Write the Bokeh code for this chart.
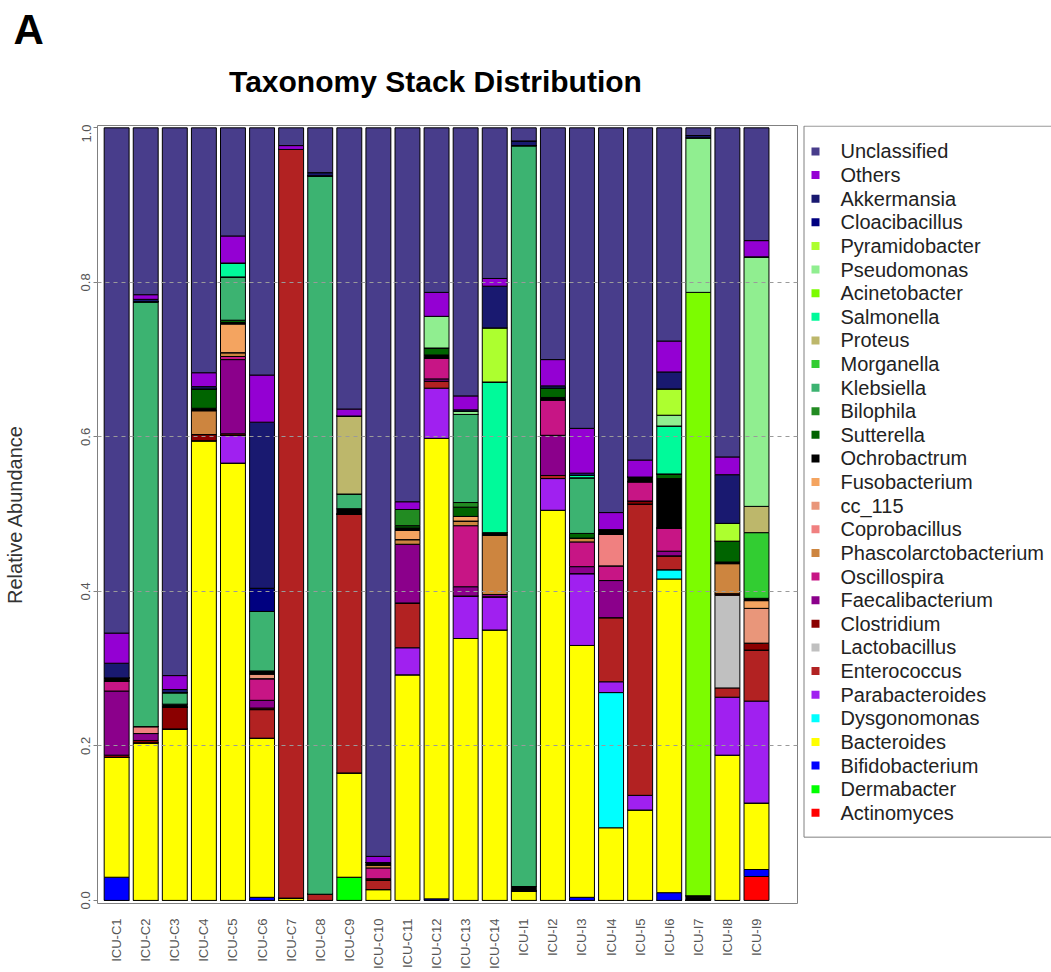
from math import pi
from bokeh.plotting import figure
from bokeh.layouts import column, row
from bokeh.models import ColumnDataSource, Range1d, FixedTicker, PrintfTickFormatter
from bokeh.core.properties import value
from bokeh.embed import file_html
from bokeh.resources import INLINE

samples = ["ICU-C1", "ICU-C2", "ICU-C3", "ICU-C4", "ICU-C5", "ICU-C6", "ICU-C7",
           "ICU-C8", "ICU-C9", "ICU-C10", "ICU-C11", "ICU-C12", "ICU-C13", "ICU-C14",
           "ICU-I1", "ICU-I2", "ICU-I3", "ICU-I4", "ICU-I5", "ICU-I6", "ICU-I7",
           "ICU-I8", "ICU-I9"]

# relative abundance per taxon (one value per sample, order as in samples)
actinomyces = [0, 0, 0, 0, 0, 0, 0, 0, 0, 0, 0, 0, 0, 0, 0, 0, 0, 0, 0, 0, 0, 0, 0.031]
dermabacter = [0, 0, 0, 0, 0, 0, 0, 0, 0.030, 0, 0, 0, 0, 0, 0, 0, 0, 0, 0, 0, 0, 0, 0]
bifidobacterium = [0.030, 0, 0, 0, 0, 0.004, 0, 0, 0, 0, 0, 0.002, 0, 0, 0, 0, 0.004, 0, 0, 0.010, 0, 0, 0.009]
bacteroides = [0.155, 0.204, 0.222, 0.595, 0.566, 0.206, 0.003, 0, 0.135, 0.014, 0.292, 0.596,
               0.339, 0.350, 0.012, 0.505, 0.326, 0.094, 0.117, 0.406, 0, 0.188, 0.086]
dysgonomonas = [0, 0, 0, 0, 0, 0, 0, 0, 0, 0, 0, 0, 0, 0, 0, 0, 0, 0.175, 0, 0.012, 0, 0, 0]
parabacteroides = [0, 0, 0, 0, 0.036, 0, 0, 0, 0, 0, 0.035, 0.065, 0.055, 0.043, 0, 0.041,
                   0.093, 0.014, 0.019, 0, 0, 0.075, 0.132]
enterococcus = [0, 0, 0, 0, 0, 0.037, 0.969, 0.008, 0.335, 0.012, 0.058, 0.009, 0, 0, 0, 0.004,
                0, 0.083, 0.377, 0.018, 0, 0.012, 0.066]
lactobacillus = [0, 0, 0, 0, 0, 0, 0, 0, 0, 0, 0, 0, 0, 0, 0, 0, 0, 0, 0, 0, 0, 0.120, 0]
clostridium = [0.003, 0.003, 0.028, 0.008, 0.002, 0.002, 0, 0, 0, 0.002, 0, 0, 0, 0, 0, 0, 0, 0,
               0.004, 0, 0, 0.002, 0.009]
faecalibacterium = [0.083, 0.009, 0, 0, 0.096, 0.010, 0, 0, 0, 0, 0.076, 0.003, 0.012, 0.003, 0,
                    0.052, 0.009, 0.048, 0, 0.006, 0, 0, 0]
oscillospira = [0.013, 0, 0, 0, 0.004, 0.028, 0, 0, 0, 0.014, 0, 0.027, 0.079, 0, 0, 0.046,
                0.032, 0.019, 0.025, 0.030, 0, 0, 0]
phascolarctobacterium = [0, 0, 0, 0.031, 0.005, 0, 0, 0, 0, 0.004, 0.006, 0, 0.006, 0.077, 0, 0,
                         0.005, 0, 0, 0, 0, 0.039, 0]
coprobacillus = [0, 0.009, 0, 0, 0, 0, 0, 0, 0, 0, 0, 0, 0, 0, 0, 0, 0, 0.041, 0, 0, 0, 0, 0]
cc_115 = [0, 0, 0, 0, 0, 0.006, 0, 0, 0, 0, 0, 0, 0, 0, 0, 0, 0, 0, 0, 0, 0, 0, 0.045]
fusobacterium = [0, 0, 0, 0, 0.037, 0, 0, 0, 0, 0, 0.012, 0, 0.006, 0, 0, 0, 0, 0, 0, 0, 0, 0, 0.010]
ochrobactrum = [0.004, 0, 0.004, 0.003, 0.002, 0.004, 0, 0, 0.007, 0.003, 0.003, 0.004, 0, 0.003,
                0.006, 0.003, 0, 0.006, 0.006, 0.064, 0.004, 0.002, 0.003]
sutterella = [0, 0, 0, 0.025, 0.003, 0, 0, 0, 0, 0, 0.003, 0.009, 0.012, 0, 0, 0.012, 0.006, 0, 0,
              0.006, 0.002, 0.027, 0]
bilophila = [0, 0, 0, 0, 0, 0, 0, 0, 0, 0, 0.021, 0, 0.006, 0, 0, 0, 0, 0, 0, 0, 0, 0, 0]
klebsiella = [0, 0.550, 0.015, 0, 0.056, 0.077, 0, 0.930, 0.019, 0, 0, 0, 0.114, 0, 0.959, 0,
              0.072, 0, 0, 0, 0, 0, 0]
morganella = [0, 0, 0, 0, 0, 0, 0, 0, 0, 0, 0, 0, 0, 0, 0, 0, 0, 0, 0, 0, 0, 0, 0.085]
proteus = [0, 0, 0, 0, 0, 0, 0, 0, 0.101, 0, 0, 0, 0, 0, 0, 0, 0, 0, 0, 0, 0, 0, 0.034]
salmonella = [0, 0, 0, 0, 0.018, 0, 0, 0, 0, 0, 0, 0, 0, 0.195, 0, 0, 0.003, 0, 0, 0.062, 0, 0, 0]
acinetobacter = [0, 0, 0, 0, 0, 0, 0, 0, 0, 0, 0, 0, 0, 0, 0, 0, 0, 0, 0, 0, 0.781, 0, 0]
pseudomonas = [0, 0, 0, 0, 0, 0, 0, 0, 0, 0, 0, 0.041, 0.004, 0, 0, 0, 0, 0, 0, 0.014, 0.200, 0, 0.323]
pyramidobacter = [0, 0, 0, 0, 0, 0, 0, 0, 0, 0, 0, 0, 0, 0.070, 0, 0, 0, 0, 0, 0.034, 0, 0.023, 0]
cloacibacillus = [0, 0, 0, 0, 0, 0.030, 0, 0, 0, 0, 0, 0, 0, 0, 0, 0, 0, 0, 0, 0, 0, 0, 0]
akkermansia = [0.019, 0.003, 0.004, 0.003, 0, 0.215, 0, 0.004, 0, 0, 0, 0, 0.002, 0.054, 0.006,
               0.003, 0.003, 0, 0, 0.022, 0.003, 0.063, 0]
others = [0.039, 0.006, 0.018, 0.018, 0.035, 0.061, 0.005, 0, 0.009, 0.008, 0.010, 0.031, 0.018,
          0.010, 0, 0.034, 0.058, 0.022, 0.022, 0.040, 0, 0.023, 0.021]
unclassified = [0.654, 0.216, 0.709, 0.317, 0.140, 0.320, 0.023, 0.058, 0.364, 0.943, 0.484,
                0.213, 0.347, 0.195, 0.017, 0.300, 0.389, 0.498, 0.430, 0.276, 0.010, 0.426, 0.146]

# stacking order, bottom to top
taxa = ["Actinomyces", "Dermabacter", "Bifidobacterium", "Bacteroides", "Dysgonomonas",
        "Parabacteroides", "Enterococcus", "Lactobacillus", "Clostridium", "Faecalibacterium",
        "Oscillospira", "Phascolarctobacterium", "Coprobacillus", "cc_115", "Fusobacterium",
        "Ochrobactrum", "Sutterella", "Bilophila", "Klebsiella", "Morganella", "Proteus",
        "Salmonella", "Acinetobacter", "Pseudomonas", "Pyramidobacter", "Cloacibacillus",
        "Akkermansia", "Others", "Unclassified"]
values = [actinomyces, dermabacter, bifidobacterium, bacteroides, dysgonomonas, parabacteroides,
          enterococcus, lactobacillus, clostridium, faecalibacterium, oscillospira,
          phascolarctobacterium, coprobacillus, cc_115, fusobacterium, ochrobactrum, sutterella,
          bilophila, klebsiella, morganella, proteus, salmonella, acinetobacter, pseudomonas,
          pyramidobacter, cloacibacillus, akkermansia, others, unclassified]
colors = ["#FF0000", "#00FF00", "#0000FF", "#FFFF00", "#00FFFF", "#A020F0", "#B22222",
          "#C0C0C0", "#8B0000", "#8B008B", "#C71585", "#CD853F", "#F08080", "#E9967A",
          "#F4A460", "#000000", "#006400", "#228B22", "#3CB371", "#32CD32", "#BDB76B",
          "#00FA9A", "#7CFC00", "#90EE90", "#ADFF2F", "#000080", "#191970", "#9400D3",
          "#483D8B"]

FONT = "Liberation Sans"


def blank_fig(w, h, xr, yr):
    f = figure(width=w, height=h, x_range=xr, y_range=yr, output_backend="svg",
               toolbar_location=None, min_border=0, x_axis_location=None, y_axis_location=None)
    f.grid.visible = False
    f.outline_line_color = None
    return f


# ---- header (panel letter + title), pixel coordinates ----
header = blank_fig(1051, 124, Range1d(0, 1051), Range1d(124, 0))
header.text(x=[13], y=[29], text=["A"], text_font=value(FONT), text_font_style=value("bold"),
            text_font_size=value("42px"), text_align=value("left"), text_baseline=value("middle"),
            text_color="black")
header.text(x=[435], y=[81], text=["Taxonomy Stack Distribution"], text_font=value(FONT),
            text_font_style=value("bold"), text_font_size=value("30px"), text_align=value("center"),
            text_baseline=value("middle"), text_color="black")

# ---- main stacked bar chart ----
data = {"x": list(range(len(samples)))}
for name, vals in zip(taxa, values):
    data[name] = vals
source = ColumnDataSource(data)

p = figure(width=798, height=848, x_range=Range1d(-0.658, 23.41), y_range=Range1d(-0.004, 1.003),
           output_backend="svg", toolbar_location=None,
           min_border_left=95, min_border_right=1, min_border_top=1, min_border_bottom=67)

p.vbar_stack(taxa, x="x", width=0.857, source=source, fill_color=colors,
             line_color="black", line_width=1)

p.outline_line_color = "#808080"
p.outline_line_width = 1

p.xaxis.ticker = FixedTicker(ticks=list(range(len(samples))))
p.xaxis.major_label_overrides = {i: s for i, s in enumerate(samples)}
p.xaxis.major_label_orientation = pi / 2
p.xaxis.axis_line_color = None
p.xaxis.major_tick_line_color = None
p.xaxis.minor_tick_line_color = None
p.xaxis.major_tick_out = 0
p.xaxis.major_tick_in = 0
p.xaxis.major_label_standoff = 15
p.xaxis.major_label_text_font = FONT
p.xaxis.major_label_text_font_size = "13px"
p.xaxis.major_label_text_color = "#555555"

p.yaxis.ticker = FixedTicker(ticks=[0, 0.2, 0.4, 0.6, 0.8, 1.0])
p.yaxis.formatter = PrintfTickFormatter(format="%.1f")
p.yaxis.major_label_orientation = "vertical"
p.yaxis.axis_line_color = None
p.yaxis.major_tick_line_color = "#808080"
p.yaxis.minor_tick_line_color = None
p.yaxis.major_tick_out = 4
p.yaxis.major_tick_in = 0
p.yaxis.major_label_standoff = 3
p.yaxis.major_label_text_font = FONT
p.yaxis.major_label_text_font_size = "13px"
p.yaxis.major_label_text_color = "#555555"
p.yaxis.axis_label = "Relative Abundance"
p.yaxis.axis_label_standoff = 53
p.yaxis.axis_label_text_font = FONT
p.yaxis.axis_label_text_font_size = "20px"
p.yaxis.axis_label_text_font_style = "normal"
p.yaxis.axis_label_text_color = "#333333"

p.xgrid.visible = False
p.ygrid.ticker = FixedTicker(ticks=[0.2, 0.4, 0.6, 0.8])
p.ygrid.grid_line_color = "#9a9a9a"
p.ygrid.grid_line_dash = "4 4"
p.ygrid.grid_line_width = 1
p.ygrid.level = "overlay"

# ---- legend panel (its frame is aligned with the chart frame: page y 125..905) ----
leg = blank_fig(253, 848, Range1d(798, 1051), Range1d(905, 125))
leg_names = list(reversed(taxa))
leg_colors = list(reversed(colors))
leg_y = [151 + 23.68 * i for i in range(len(leg_names))]
leg.quad(left=[803.5], right=[1070], top=[125.6], bottom=[838.5], fill_color="white",
         line_color="#808080", line_width=1)
leg.scatter(x=[815] * len(leg_names), y=leg_y, marker="square", size=8,
            fill_color=leg_colors, line_color=None)
leg.text(x=[840] * len(leg_names), y=leg_y, text=leg_names, text_font=value(FONT),
         text_font_size=value("20px"), text_align=value("left"), text_baseline=value("middle"),
         text_color="#222222")

layout = column(header, row(p, leg))

open("out.html", "w").write(file_html(layout, INLINE))
